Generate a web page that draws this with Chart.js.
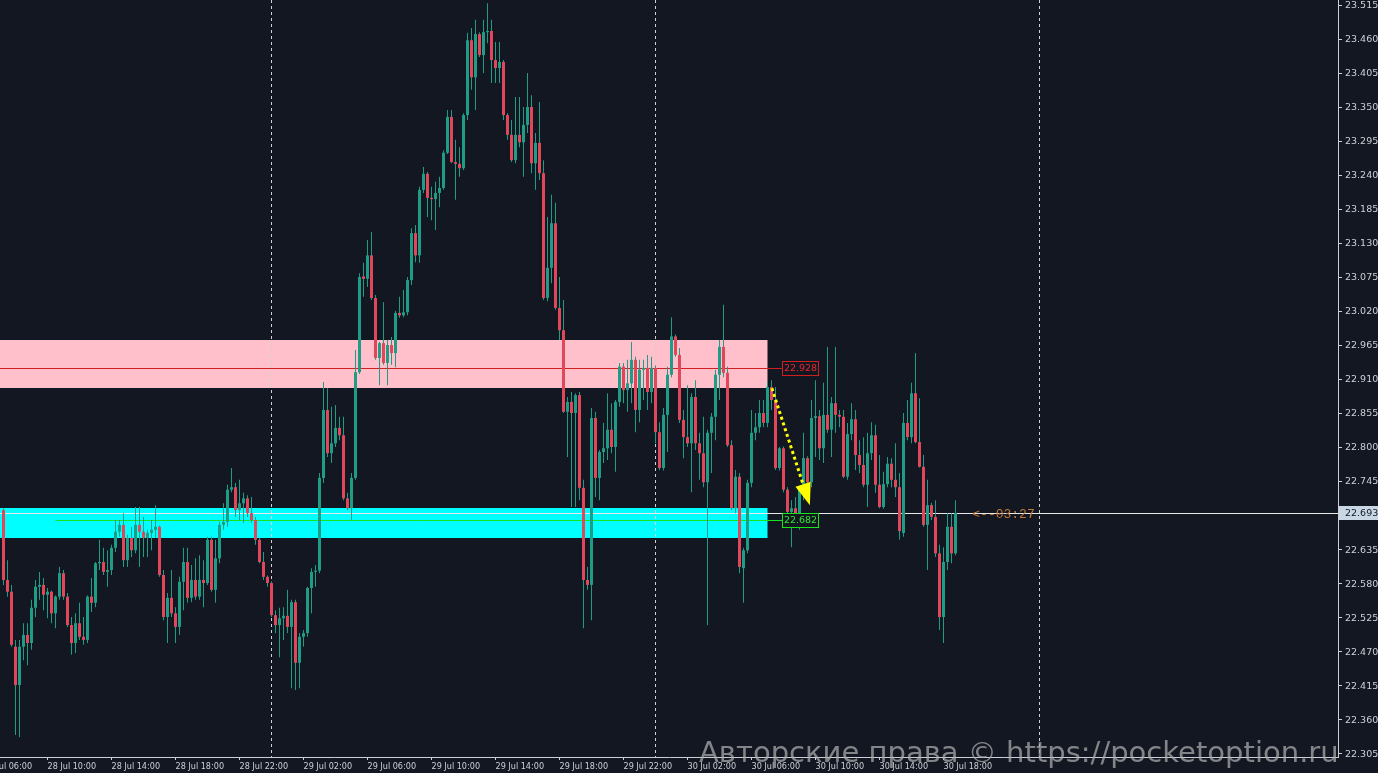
<!DOCTYPE html>
<html>
<head>
<meta charset="utf-8">
<script src="https://cdn.jsdelivr.net/npm/chart.js@4.4.1/dist/chart.umd.min.js"></script>
<style>
  html, body { margin: 0; padding: 0; background: #131722; overflow: hidden; }
  canvas { display: block; }
</style>
</head>
<body>
<canvas id="chart" width="1378" height="773"></canvas>
<script>
// 15 minute candles, first one opens 28 Jul 07:15 (index 0)
const opens = [
  22.698,22.585,22.566,22.477,22.415,22.477,22.496,22.483,22.540,22.574,
  22.577,22.561,22.566,22.531,22.558,22.596,22.558,22.512,22.483,22.515,
  22.493,22.488,22.558,22.548,22.612,22.614,22.598,22.601,22.637,22.663,
  22.674,22.617,22.653,22.633,22.674,22.663,22.653,22.661,22.666,22.671,
  22.593,22.525,22.556,22.531,22.509,22.582,22.614,22.556,22.585,22.558,
  22.585,22.580,22.650,22.569,22.620,22.674,22.679,22.731,22.735,22.698,
  22.709,22.717,22.693,22.682,22.650,22.614,22.590,22.580,22.528,22.512,
  22.523,22.527,22.509,22.549,22.451,22.493,22.499,22.572,22.598,22.600,
  22.750,22.860,22.790,22.806,22.831,22.819,22.717,22.701,22.750,22.921,
  23.076,23.072,23.110,23.041,22.944,22.968,22.936,22.965,22.952,23.017,
  23.013,23.018,23.070,23.146,23.110,23.216,23.242,23.203,23.201,23.211,
  23.219,23.276,23.334,23.261,23.258,23.251,23.337,23.458,23.398,23.468,
  23.434,23.471,23.473,23.426,23.413,23.423,23.337,23.305,23.264,23.305,
  23.293,23.321,23.350,23.259,23.292,23.243,23.041,23.090,23.162,23.025,
  22.989,22.857,22.873,22.855,22.884,22.734,22.585,22.577,22.847,22.750,
  22.792,22.798,22.828,22.800,22.873,22.930,22.892,22.903,22.941,22.860,
  22.925,22.928,22.889,22.928,22.824,22.766,22.852,22.917,22.979,22.949,
  22.844,22.816,22.806,22.881,22.806,22.790,22.743,22.823,22.849,22.917,
  22.962,22.920,22.803,22.701,22.752,22.604,22.633,22.742,22.823,22.832,
  22.855,22.839,22.897,22.876,22.766,22.798,22.731,22.695,22.701,22.693,
  22.731,22.782,22.743,22.847,22.850,22.798,22.852,22.828,22.871,22.852,
  22.849,22.752,22.821,22.845,22.787,22.771,22.739,22.790,22.819,22.739,
  22.703,22.740,22.773,22.747,22.735,22.661,22.839,22.816,22.887,22.808,
  22.768,22.674,22.706,22.687,22.628,22.525,22.614,22.671,22.628
];
const highs = [
  22.701,22.617,22.577,22.488,22.488,22.515,22.515,22.553,22.585,22.598,
  22.588,22.572,22.568,22.560,22.606,22.601,22.564,22.525,22.531,22.548,
  22.525,22.560,22.588,22.614,22.650,22.637,22.633,22.642,22.682,22.682,
  22.693,22.658,22.671,22.703,22.703,22.687,22.666,22.682,22.706,22.673,
  22.601,22.564,22.601,22.541,22.590,22.637,22.637,22.609,22.620,22.625,
  22.617,22.655,22.655,22.650,22.679,22.709,22.739,22.766,22.742,22.747,
  22.726,22.722,22.719,22.687,22.653,22.630,22.592,22.583,22.536,22.540,
  22.541,22.569,22.553,22.553,22.499,22.504,22.574,22.604,22.609,22.758,
  22.905,22.895,22.865,22.868,22.849,22.849,22.726,22.758,22.957,23.081,
  23.098,23.135,23.148,23.046,22.970,23.034,22.973,22.978,23.020,23.043,
  23.054,23.075,23.154,23.159,23.221,23.253,23.245,23.221,23.229,23.237,
  23.280,23.345,23.345,23.297,23.285,23.340,23.470,23.478,23.491,23.471,
  23.491,23.518,23.491,23.455,23.455,23.426,23.340,23.329,23.366,23.366,
  23.350,23.405,23.369,23.308,23.358,23.264,23.172,23.208,23.195,23.075,
  23.038,22.881,22.889,22.887,22.889,22.747,22.606,22.863,22.857,22.795,
  22.839,22.887,22.871,22.876,22.936,22.936,22.941,22.970,22.946,22.941,
  22.941,22.949,22.946,22.932,22.840,22.863,22.930,23.010,22.982,22.960,
  22.860,22.900,22.887,22.908,22.823,22.849,22.828,22.855,22.925,22.973,
  23.030,22.930,22.811,22.763,22.758,22.637,22.747,22.860,22.855,22.876,
  22.876,22.904,22.908,22.897,22.800,22.801,22.735,22.714,22.719,22.735,
  22.823,22.785,22.876,22.908,22.860,22.904,22.962,22.881,22.962,22.860,
  22.860,22.839,22.871,22.860,22.811,22.816,22.823,22.840,22.836,22.787,
  22.760,22.784,22.782,22.806,22.758,22.855,22.876,22.904,22.952,22.879,
  22.787,22.747,22.710,22.714,22.642,22.638,22.693,22.693,22.714
];
const lows = [
  22.577,22.558,22.477,22.334,22.331,22.455,22.447,22.472,22.525,22.553,
  22.536,22.523,22.515,22.507,22.553,22.553,22.509,22.464,22.467,22.488,
  22.480,22.483,22.533,22.541,22.601,22.593,22.574,22.593,22.630,22.655,
  22.606,22.606,22.622,22.628,22.606,22.622,22.622,22.633,22.653,22.590,
  22.520,22.483,22.525,22.483,22.496,22.536,22.548,22.549,22.553,22.553,
  22.541,22.577,22.566,22.548,22.612,22.666,22.671,22.727,22.687,22.682,
  22.677,22.687,22.677,22.642,22.612,22.585,22.574,22.525,22.499,22.460,
  22.488,22.499,22.410,22.407,22.410,22.477,22.493,22.531,22.574,22.596,
  22.742,22.784,22.774,22.800,22.811,22.714,22.698,22.682,22.747,22.918,
  23.043,23.059,23.038,22.941,22.900,22.933,22.900,22.933,22.929,23.009,
  23.010,23.013,23.062,23.099,23.098,23.211,23.172,23.167,23.151,23.188,
  23.216,23.274,23.259,23.200,23.237,23.248,23.329,23.378,23.345,23.431,
  23.405,23.453,23.389,23.389,23.389,23.329,23.297,23.261,23.259,23.285,
  23.237,23.308,23.243,23.216,23.232,23.038,23.036,23.065,23.022,22.973,
  22.855,22.784,22.703,22.703,22.714,22.507,22.569,22.520,22.719,22.714,
  22.774,22.779,22.790,22.760,22.865,22.871,22.857,22.871,22.824,22.840,
  22.876,22.860,22.871,22.806,22.763,22.762,22.792,22.913,22.946,22.839,
  22.782,22.800,22.727,22.795,22.747,22.735,22.512,22.758,22.811,22.876,
  22.913,22.800,22.698,22.693,22.596,22.548,22.628,22.735,22.811,22.823,
  22.832,22.832,22.860,22.763,22.762,22.727,22.693,22.638,22.671,22.666,
  22.714,22.742,22.735,22.784,22.779,22.774,22.823,22.784,22.823,22.832,
  22.750,22.747,22.811,22.763,22.758,22.735,22.703,22.779,22.726,22.701,
  22.700,22.735,22.735,22.719,22.650,22.655,22.811,22.806,22.806,22.767,
  22.671,22.601,22.682,22.622,22.504,22.483,22.601,22.612,22.625
];
const closes = [
  22.585,22.566,22.480,22.415,22.477,22.496,22.483,22.540,22.574,22.577,
  22.561,22.566,22.531,22.558,22.596,22.558,22.512,22.483,22.515,22.493,
  22.488,22.558,22.548,22.612,22.614,22.598,22.601,22.637,22.663,22.674,
  22.617,22.653,22.633,22.674,22.663,22.653,22.661,22.666,22.671,22.593,
  22.525,22.556,22.531,22.509,22.582,22.614,22.556,22.585,22.558,22.585,
  22.580,22.650,22.569,22.620,22.674,22.679,22.731,22.735,22.698,22.709,
  22.717,22.693,22.682,22.650,22.614,22.590,22.580,22.528,22.512,22.523,
  22.527,22.509,22.549,22.451,22.493,22.499,22.572,22.598,22.600,22.750,
  22.860,22.790,22.806,22.831,22.819,22.717,22.701,22.750,22.921,23.075,
  23.072,23.110,23.041,22.944,22.968,22.936,22.965,22.952,23.017,23.013,
  23.018,23.070,23.146,23.110,23.216,23.242,23.203,23.201,23.211,23.219,
  23.276,23.334,23.261,23.258,23.251,23.337,23.458,23.398,23.468,23.434,
  23.471,23.473,23.426,23.413,23.423,23.337,23.305,23.264,23.305,23.293,
  23.321,23.350,23.259,23.292,23.243,23.041,23.090,23.162,23.025,22.989,
  22.857,22.873,22.855,22.884,22.734,22.585,22.577,22.847,22.750,22.792,
  22.798,22.828,22.800,22.873,22.930,22.892,22.903,22.941,22.860,22.925,
  22.928,22.889,22.928,22.824,22.766,22.852,22.917,22.979,22.949,22.844,
  22.816,22.806,22.881,22.806,22.790,22.743,22.823,22.849,22.917,22.962,
  22.920,22.803,22.701,22.752,22.606,22.633,22.742,22.823,22.832,22.855,
  22.839,22.897,22.876,22.766,22.798,22.731,22.695,22.701,22.693,22.731,
  22.782,22.743,22.847,22.850,22.798,22.852,22.828,22.871,22.852,22.849,
  22.752,22.821,22.845,22.787,22.771,22.739,22.790,22.819,22.739,22.703,
  22.740,22.773,22.747,22.735,22.664,22.839,22.816,22.887,22.808,22.768,
  22.674,22.706,22.687,22.628,22.525,22.614,22.671,22.628,22.693
];

// time axis labels (candle index -> label), every 4 hours
const xTickIndex = [-5, 11, 27, 43, 59, 75, 91, 107, 123, 139, 155, 171, 187, 203, 219, 235];
const xTickLabels = [
  '28 Jul 06:00', '28 Jul 10:00', '28 Jul 14:00', '28 Jul 18:00', '28 Jul 22:00',
  '29 Jul 02:00', '29 Jul 06:00', '29 Jul 10:00', '29 Jul 14:00', '29 Jul 18:00', '29 Jul 22:00',
  '30 Jul 02:00', '30 Jul 06:00', '30 Jul 10:00', '30 Jul 14:00', '30 Jul 18:00'
];
const yTicks = [
  22.305, 22.360, 22.415, 22.470, 22.525, 22.580, 22.635, 22.690, 22.745, 22.800,
  22.855, 22.910, 22.965, 23.020, 23.075, 23.130, 23.185, 23.240, 23.295, 23.350,
  23.405, 23.460, 23.515
];
// midnight separators (candle index of 29, 30, 31 Jul 00:00)
const daySeparators = [67, 163, 259];

// drawn objects
const zones = [
  { from: -1, to: 191, top: 22.973, bottom: 22.895, color: '#ffc0cb' },
  { from: -1, to: 191, top: 22.701, bottom: 22.653, color: '#00ffff' }
];
const levels = [
  { price: 22.928, from: -1, to: 194.6, line: '#d01f1f', text: '#e8262e' },
  { price: 22.682, from: 13, to: 194.6, line: '#19e619', text: '#2ee82e' }
];
const lastPrice = 22.693;
const countdown = '<--03:27';
const arrowFrom = [192.1, 22.895];
const arrowTo = [201.6, 22.706];
const watermark = 'Авторские права © https://pocketoption.ru';

const X_MIN = -0.875, X_MAX = 333.625;
const Y_MIN = 22.2986, Y_MAX = 23.5231;

const BG = '#131722';
const UP = '#1f9c86';
const DOWN = '#e0475a';
const AXIS = '#ccd0d6';

const wicks = opens.map((o, i) => ({
  x: i, y: [Math.min(lows[i], o, closes[i]), Math.max(highs[i], o, closes[i])]
}));
const bodies = opens.map((o, i) => ({ x: i, y: [Math.min(o, closes[i]), Math.max(o, closes[i])] }));
const bodyColors = opens.map((o, i) => closes[i] >= o ? UP : DOWN);

const overlay = {
  id: 'overlay',
  beforeDraw(c) {
    const ctx = c.ctx;
    ctx.save();
    ctx.fillStyle = BG;
    ctx.fillRect(0, 0, c.width, c.height);
    ctx.restore();
  },
  beforeDatasetsDraw(c) {
    const { ctx, chartArea: a, scales: { x, y } } = c;
    ctx.save();
    ctx.beginPath();
    ctx.rect(a.left, a.top, a.right - a.left, a.bottom - a.top);
    ctx.clip();

    zones.forEach(z => {
      const x0 = Math.max(a.left, x.getPixelForValue(z.from));
      const x1 = x.getPixelForValue(z.to);
      const y0 = y.getPixelForValue(z.top);
      const y1 = y.getPixelForValue(z.bottom);
      ctx.fillStyle = z.color;
      ctx.fillRect(x0, Math.round(y0), x1 - x0, Math.round(y1) - Math.round(y0));
    });

    ctx.strokeStyle = '#d0d0d0';
    ctx.lineWidth = 1;
    ctx.setLineDash([3, 3]);
    daySeparators.forEach(k => {
      const px = Math.floor(x.getPixelForValue(k)) + 0.5;
      ctx.beginPath();
      ctx.moveTo(px, a.top);
      ctx.lineTo(px, a.bottom);
      ctx.stroke();
    });
    ctx.setLineDash([]);

    levels.forEach(l => {
      const py = Math.round(y.getPixelForValue(l.price)) + 0.5;
      ctx.strokeStyle = l.line;
      ctx.beginPath();
      ctx.moveTo(Math.max(a.left, x.getPixelForValue(l.from)), py);
      ctx.lineTo(x.getPixelForValue(l.to), py);
      ctx.stroke();
    });

    const ly = Math.round(y.getPixelForValue(lastPrice)) + 0.5;
    ctx.strokeStyle = '#e8e8e8';
    ctx.beginPath();
    ctx.moveTo(a.left, ly);
    ctx.lineTo(a.right, ly);
    ctx.stroke();
    ctx.restore();
  },
  afterDatasetsDraw(c) {
    const { ctx, scales: { x, y } } = c;
    ctx.save();
    // level price labels
    ctx.font = '9.5px "DejaVu Sans"';
    ctx.textAlign = 'center';
    ctx.textBaseline = 'middle';
    levels.forEach(l => {
      const py = Math.round(y.getPixelForValue(l.price));
      const bx = Math.round(x.getPixelForValue(l.to)) + 0.5;
      ctx.fillStyle = BG;
      ctx.fillRect(bx, py - 7, 36, 14);
      ctx.strokeStyle = l.line;
      ctx.strokeRect(bx, py - 6.5, 36, 14);
      ctx.fillStyle = l.text;
      ctx.fillText(l.price.toFixed(3), bx + 18, py + 1);
    });

    // countdown text
    ctx.font = '13px "Liberation Mono", monospace';
    ctx.textAlign = 'left';
    ctx.fillStyle = '#c27838';
    ctx.fillText(countdown, x.getPixelForValue(opens.length - 1 + 4.2), y.getPixelForValue(lastPrice) + 1.5);

    // dotted arrow
    const sx = x.getPixelForValue(arrowFrom[0]), sy = y.getPixelForValue(arrowFrom[1]);
    const tx = x.getPixelForValue(arrowTo[0]), ty = y.getPixelForValue(arrowTo[1]);
    const len = Math.hypot(tx - sx, ty - sy);
    const ux = (tx - sx) / len, uy = (ty - sy) / len;
    const head = 22, half = 8;
    const bxh = tx - ux * head, byh = ty - uy * head;
    ctx.strokeStyle = '#ffff00';
    ctx.lineWidth = 3;
    ctx.setLineDash([3, 3]);
    ctx.beginPath();
    ctx.moveTo(sx, sy);
    ctx.lineTo(bxh, byh);
    ctx.stroke();
    ctx.setLineDash([]);
    ctx.fillStyle = '#ffff00';
    ctx.beginPath();
    ctx.moveTo(tx, ty);
    ctx.lineTo(bxh - uy * half, byh + ux * half);
    ctx.lineTo(bxh + uy * half, byh - ux * half);
    ctx.closePath();
    ctx.fill();
    ctx.restore();
  },
  afterDraw(c) {
    const { ctx, chartArea: a, scales: { y } } = c;
    ctx.save();
    // last price tag on the axis
    const py = Math.round(y.getPixelForValue(lastPrice));
    ctx.fillStyle = '#c9d7e4';
    ctx.fillRect(a.right + 1, py - 7, c.width - a.right - 1, 14);
    ctx.fillStyle = '#101827';
    ctx.font = '9.5px "DejaVu Sans"';
    ctx.textAlign = 'left';
    ctx.textBaseline = 'middle';
    ctx.fillText(lastPrice.toFixed(3), a.right + 7, py + 1);

    // watermark
    ctx.font = '100px "DejaVu Sans"';
    const w = ctx.measureText(watermark).width;
    const size = 100 * 640 / w;
    ctx.font = size.toFixed(2) + 'px "DejaVu Sans"';
    ctx.textBaseline = 'alphabetic';
    ctx.fillStyle = 'rgba(175,175,175,0.72)';
    ctx.fillText(watermark, 699, 762);
    ctx.restore();
  }
};

new Chart(document.getElementById('chart'), {
  type: 'bar',
  data: {
    datasets: [
      {
        label: 'wick', data: wicks, backgroundColor: UP, barThickness: 1,
        grouped: false, inflateAmount: 0, borderWidth: 0, order: 2
      },
      {
        label: 'body', data: bodies, backgroundColor: bodyColors, barThickness: 3,
        grouped: false, inflateAmount: 0, borderWidth: 0, minBarLength: 1, order: 1
      }
    ]
  },
  options: {
    responsive: false,
    devicePixelRatio: 1,
    animation: false,
    events: [],
    layout: { padding: 0 },
    plugins: { legend: { display: false }, tooltip: { enabled: false } },
    scales: {
      x: {
        type: 'linear', min: X_MIN, max: X_MAX, bounds: 'data', offset: false,
        afterBuildTicks: s => { s.ticks = xTickIndex.map(v => ({ value: v })); },
        afterFit: s => { s.height = 16; s.paddingLeft = 0; s.paddingRight = 0; },
        ticks: {
          autoSkip: false, maxRotation: 0, minRotation: 0, align: 'start', padding: 1,
          color: AXIS, font: { family: '"DejaVu Sans Condensed", "Liberation Sans Narrow", "DejaVu Sans"', size: 9 },
          callback: (v, i) => xTickLabels[i]
        },
        grid: { drawOnChartArea: false, offset: false, tickLength: 3, color: AXIS },
        border: { display: true, color: AXIS }
      },
      y: {
        position: 'right', min: Y_MIN, max: Y_MAX, bounds: 'data',
        afterBuildTicks: s => { s.ticks = yTicks.map(v => ({ value: v })); },
        afterFit: s => { s.width = 40; s.paddingTop = 0; s.paddingBottom = 0; },
        ticks: {
          padding: 3, labelOffset: 1, color: AXIS, font: { family: '"DejaVu Sans"', size: 9.5 },
          callback: v => v.toFixed(3)
        },
        grid: { drawOnChartArea: false, tickLength: 4, color: AXIS },
        border: { display: true, color: AXIS }
      }
    }
  },
  plugins: [overlay]
});
</script>
</body>
</html>
